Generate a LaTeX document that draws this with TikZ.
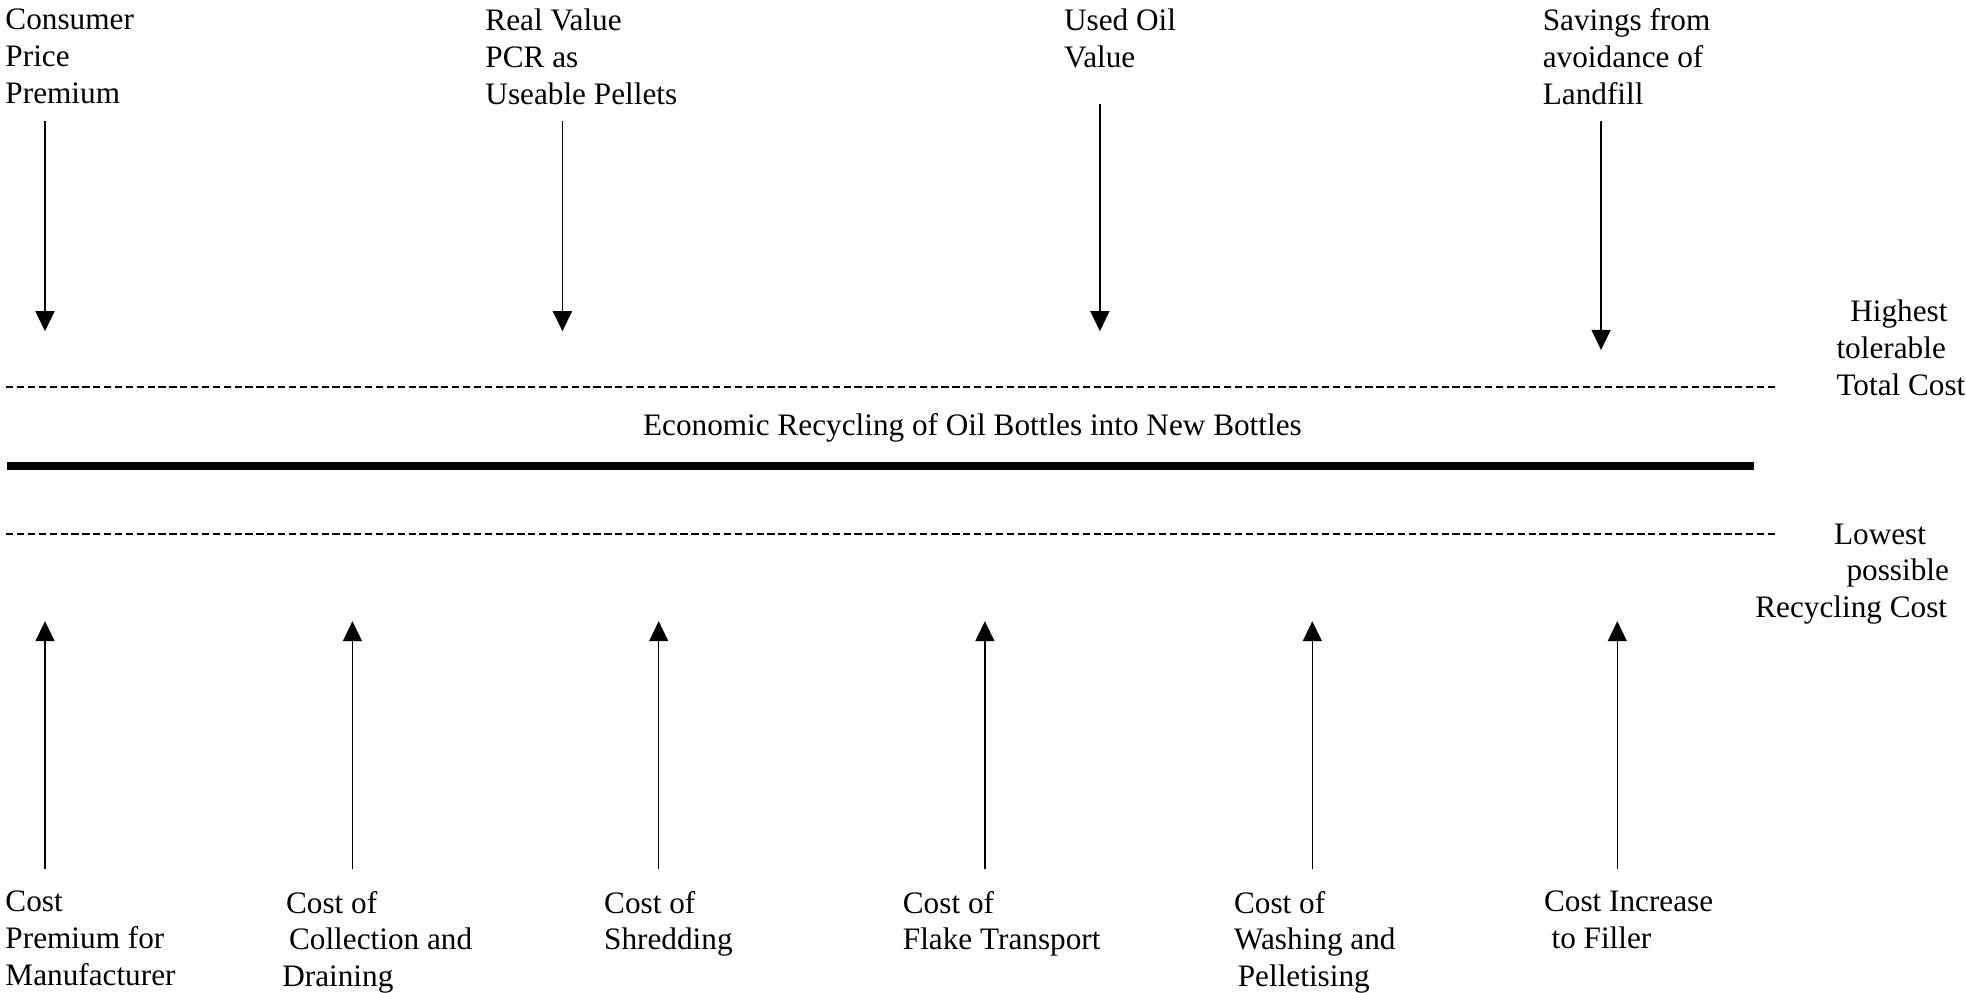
\documentclass[tikz,border=0pt]{standalone}
\usepackage{fontspec}
\setmainfont{Liberation Serif}
\usetikzlibrary{arrows.meta}

\tikzset{
    factor/.style={align=left, inner sep=0pt, anchor=north west, font=\fontsize{12.5}{14.75}\selectfont},
    push/.style={-{Triangle[length=8pt, width=7.6pt]}, line width=0.6pt},
    limit/.style={dash pattern=on 2.9pt off 1.45pt, line width=0.8pt},
}

\begin{document}
\begin{tikzpicture}[x=0.5pt, y=-0.5pt]
    \useasboundingbox (0, 0) rectangle (1573, 794);

    % Revenue side
    \node[factor] (consumer) at (4, 6.5) {Consumer\\Price\\Premium};
    \node[factor] (pcr) at (388, 6.5) {Real Value\\PCR as\\Useable Pellets};
    \node[factor] (oil) at (851, 6.5) {Used Oil\\Value};
    \node[factor] (landfill) at (1234, 6.5) {Savings from\\avoidance of\\Landfill};

    \coordinate (consumer top) at (36, 97);   \coordinate (consumer tip) at (36, 265);
    \coordinate (pcr top) at (450, 97);       \coordinate (pcr tip) at (450, 265);
    \coordinate (oil top) at (880, 83);       \coordinate (oil tip) at (880, 265);
    \coordinate (landfill top) at (1281, 97); \coordinate (landfill tip) at (1281, 280);
    \draw[push] (consumer top) -- (consumer tip);
    \draw[push] (pcr top) -- (pcr tip);
    \draw[push] (oil top) -- (oil tip);
    \draw[push] (landfill top) -- (landfill tip);

    % Limits and the recycling band
    \coordinate (high l) at (5, 310);  \coordinate (high r) at (1422, 310);
    \coordinate (low l) at (5, 427);   \coordinate (low r) at (1422, 427);
    \coordinate (band l) at (6, 373);  \coordinate (band r) at (1403, 373);
    \draw[limit] (high l) -- (high r);
    \draw[limit] (low l) -- (low r);
    \draw[line width=3.4pt] (band l) -- (band r);

    \node[factor, anchor=north] (band) at (778, 330.5) {Economic Recycling of Oil Bottles into New Bottles};
    \node[factor] (highest) at (1469, 239.5) {\hspace*{5.5pt}Highest\\tolerable\\Total Cost};
    \node[factor] (lowest) at (1404, 418.5) {\hspace*{31.5pt}Lowest\\\hspace*{36.5pt}possible\\Recycling Cost};

    % Cost side
    \node[factor] (premium) at (4, 712.5) {Cost\\Premium for\\Manufacturer};
    \node[factor] (collection) at (225.5, 712.5) {\hspace*{1.5pt}Cost of\\\hspace*{2.7pt}Collection and\\Draining};
    \node[factor] (shredding) at (483, 712.5) {Cost of\\Shredding};
    \node[factor] (transport) at (722, 712.5) {Cost of\\Flake Transport};
    \node[factor] (washing) at (987, 712.5) {Cost of\\Washing and\\\hspace*{1.5pt}Pelletising};
    \node[factor] (filler) at (1235, 712.5) {Cost Increase\\\hspace*{3pt}to Filler};

    \coordinate (premium foot) at (36, 695);     \coordinate (premium tip) at (36, 497);
    \coordinate (collection foot) at (282, 695); \coordinate (collection tip) at (282, 497);
    \coordinate (shredding foot) at (527, 695);  \coordinate (shredding tip) at (527, 497);
    \coordinate (transport foot) at (788, 695);  \coordinate (transport tip) at (788, 497);
    \coordinate (washing foot) at (1050, 695);   \coordinate (washing tip) at (1050, 497);
    \coordinate (filler foot) at (1294, 695);    \coordinate (filler tip) at (1294, 497);
    \draw[push] (premium foot) -- (premium tip);
    \draw[push] (collection foot) -- (collection tip);
    \draw[push] (shredding foot) -- (shredding tip);
    \draw[push] (transport foot) -- (transport tip);
    \draw[push] (washing foot) -- (washing tip);
    \draw[push] (filler foot) -- (filler tip);
\end{tikzpicture}
\end{document}
